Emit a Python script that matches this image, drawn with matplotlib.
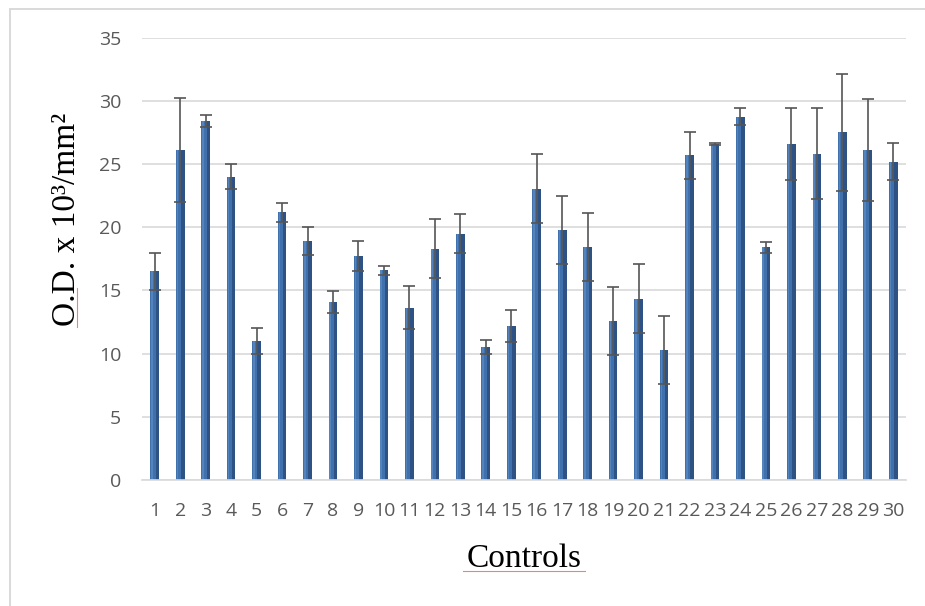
import matplotlib
matplotlib.use("Agg")
import matplotlib.pyplot as plt
from matplotlib.lines import Line2D
import numpy as np

categories = [str(i) for i in range(1, 31)]
means = [16.5, 26.1, 28.4, 24.0, 11.0, 21.2, 18.9, 14.1, 17.75, 16.6,
         13.65, 18.3, 19.5, 10.5, 12.2, 23.05, 19.8, 18.45, 12.6, 14.35,
         10.3, 25.7, 26.6, 28.75, 18.4, 26.6, 25.8, 27.5, 26.1, 25.2]
errors = [1.5, 4.1, 0.5, 1.0, 1.0, 0.75, 1.1, 0.85, 1.2, 0.35,
          1.7, 2.35, 1.55, 0.55, 1.25, 2.75, 2.7, 2.7, 2.7, 2.75,
          2.7, 1.85, 0.1, 0.67, 0.4, 2.85, 3.6, 4.6, 4.05, 1.45]
yticks = [0, 5, 10, 15, 20, 25, 30, 35]
xlabel = "Controls"
ylabel = "O.D. x 10\u00b3/mm\u00b2"

W, H = 925, 606
fig = plt.figure(figsize=(W / 100, H / 100), dpi=100)
fig.patch.set_facecolor("white")

# outer border (left and top only visible)
fig.add_artist(Line2D([10 / W, 10 / W], [0, 1 - 9 / H], transform=fig.transFigure,
                      color="#d9d9d9", linewidth=1.4))
fig.add_artist(Line2D([10 / W, 1], [1 - 9 / H, 1 - 9 / H], transform=fig.transFigure,
                      color="#d9d9d9", linewidth=1.4))

left, right, top, bottom = 142, 906, 37.7, 480
ax = fig.add_axes([left / W, 1 - bottom / H, (right - left) / W, (bottom - top) / H])

x = np.arange(1, len(categories) + 1)
bw = 0.34
ax.bar(x, means, width=bw, color="#4071ac", zorder=2)
ax.bar(x + bw * 0.3, means, width=bw * 0.4, color="#2f5284", zorder=2)
ax.bar(x - bw * 0.32, means, width=bw * 0.18, color="#5584bd", zorder=2)
ax.errorbar(x, means, yerr=errors, fmt="none", ecolor="#555555", elinewidth=1.2,
            capsize=4.4, capthick=1.2, zorder=3)

ax.set_xlim(0.5, len(categories) + 0.5)
ax.set_ylim(0, 35)
ax.set_yticks(yticks)
ax.set_xticks(x)
ax.set_xticklabels(categories)
ax.yaxis.grid(True, color="#d9d9d9", linewidth=1.2, zorder=0)
ax.set_axisbelow(True)
for s in ["left", "right", "top"]:
    ax.spines[s].set_visible(False)
ax.spines["bottom"].set_color("#d9d9d9")
ax.spines["bottom"].set_linewidth(1.2)
ax.tick_params(axis="both", length=0, labelcolor="#595959", labelsize=14)
ax.tick_params(axis="y", pad=15)
ax.tick_params(axis="x", pad=16)
for lab in ax.get_xticklabels() + ax.get_yticklabels():
    lab.set_fontfamily("Open Sans")

# axis titles
fig.text(75 / W, 1 - 219 / H, ylabel, rotation=90, rotation_mode="anchor",
         ha="center", va="baseline", fontsize=24, family="Liberation Serif", color="black")
fig.text(524 / W, 1 - 567 / H, xlabel, ha="center", va="baseline",
         fontsize=24, family="Liberation Serif", color="black")

# spell-check underlines
fig.add_artist(Line2D([77 / W, 77 / W], [1 - 288 / H, 1 - 327 / H], transform=fig.transFigure,
                      color="#f08080", linewidth=0.8))
fig.add_artist(Line2D([463 / W, 585 / W], [1 - 571 / H, 1 - 571 / H], transform=fig.transFigure,
                      color="#f08080", linewidth=0.8))

fig.savefig("out.png", dpi=100)
